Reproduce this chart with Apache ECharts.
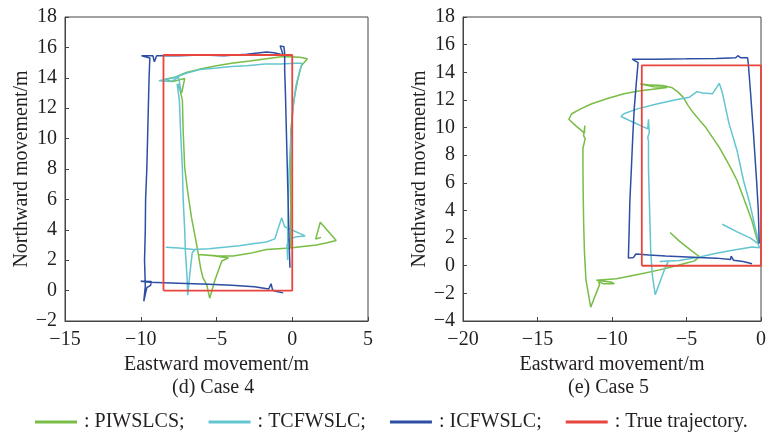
<!DOCTYPE html>
<html>
<head>
<meta charset="utf-8">
<script src="https://cdn.jsdelivr.net/npm/echarts@6/dist/echarts.min.js"></script>
<style>
html,body{margin:0;padding:0;background:#fff;}
#chart{width:769px;height:434px;}
</style>
</head>
<body>
<div id="chart"></div>
<script>
// ---- Data ----
const seriesNames = ['PIWSLCS', 'TCFWSLC', 'ICFWSLC', 'True trajectory'];
const panelTitles = ['(d) Case 4', '(e) Case 5'];
const xAxisTitle = 'Eastward movement/m';
const yAxisTitle = 'Northward movement/m';

// Case 4
const case4_PIWSLCS = [[-0.1,2.8],[-0.1,5],[-0.1,8],[-0.1,10.5],[0.1,12.5],[0.35,13.8],[0.6,14.8],[1.0,15.25],[0.5,15.35],[-0.6,15.4],[-1.7,15.25],[-2.8,15.1],[-4,14.95],[-5,14.8],[-6,14.6],[-7,14.35],[-7.7,14.05],[-8.4,13.9],[-7.9,13.75],[-7.1,13.95],[-7.3,13.0],[-7.5,13.6],[-7.25,12.5],[-7.2,10.5],[-7.1,8.1],[-6.9,6.5],[-6.65,4.8],[-6.4,3.5],[-6.2,2.4],[-6.05,1.5],[-5.9,0.85],[-5.65,0.4],[-5.45,-0.5],[-5.1,0.7],[-4.65,1.95],[-4.2,2.15],[-5.2,2.3],[-6.2,2.37],[-5,2.3],[-3.9,2.27],[-2.8,2.45],[-1.7,2.7],[-0.15,2.8],[0.7,2.9],[1.6,3.0],[2.3,3.15],[2.9,3.3],[1.85,4.5],[1.55,3.4],[1.9,3.5]];
const case4_TCFWSLC = [[-8.35,2.85],[-7.5,2.8],[-6.5,2.7],[-5.5,2.75],[-4.5,2.85],[-3.5,2.95],[-2.5,3.1],[-1.7,3.2],[-1.15,3.4],[-0.7,4.8],[-0.5,4.2],[0.85,3.6],[0.3,3.55],[-0.2,3.4],[-0.35,3.0],[-0.3,2.0],[-0.3,4],[-0.25,6],[-0.2,8],[-0.1,10],[0.05,12],[0.25,13.5],[0.5,14.5],[0.65,14.95],[0.2,14.95],[-0.8,14.9],[-1.8,14.9],[-3,14.8],[-4,14.75],[-5,14.65],[-6.1,14.55],[-7,14.3],[-7.8,14.0],[-8.8,13.8],[-8,13.75],[-7.5,14.05],[-7.35,13.1],[-7.6,13.6],[-7.45,12.5],[-7.35,10],[-7.25,8],[-7.2,6],[-7.1,4],[-7.05,2.5],[-6.95,1],[-6.9,-0.3],[-6.75,1.2],[-6.6,2.5],[-6.4,2.7]];
const case4_ICFWSLC = [[-0.6,-0.15],[-1.1,-0.05],[-1.3,0.05],[-1.4,0.45],[-1.55,0.1],[-2.5,0.25],[-4,0.35],[-5.5,0.42],[-7,0.47],[-8.5,0.52],[-9.4,0.55],[-10.0,0.62],[-9.3,0.6],[-9.35,0.35],[-9.6,0.2],[-9.8,-0.7],[-9.7,0.3],[-9.75,2],[-9.7,4],[-9.68,6],[-9.6,8],[-9.55,10],[-9.5,12],[-9.45,14],[-9.4,15.3],[-9.95,15.45],[-9.2,15.45],[-9.1,15.05],[-8.95,15.45],[-7.5,15.45],[-6,15.5],[-4.5,15.45],[-3,15.55],[-1.7,15.7],[-1.2,15.65],[-0.6,15.5],[-0.8,16.1],[-0.55,16.05],[-0.5,15.6],[-0.5,14.5],[-0.45,13],[-0.4,11],[-0.35,9],[-0.3,7],[-0.25,5],[-0.2,3],[-0.15,1.5]];
const case4_True = [[-8.5,0],[0,0],[0,15.5],[-8.5,15.5],[-8.5,0]];

// Case 5
const case5_PIWSLCS = [[-6.1,2.4],[-5.5,1.8],[-4.8,1.2],[-4.13,0.65],[-4.46,0.35],[-5.0,0.2],[-5.67,0.0],[-6.8,-0.3],[-8.1,-0.6],[-9.7,-0.95],[-11.05,-1.05],[-10.0,-1.2],[-9.85,-1.3],[-10.6,-1.3],[-10.9,-1.15],[-10.83,-1.35],[-11.43,-3.0],[-11.75,-1.0],[-11.85,1],[-11.9,3],[-11.93,5],[-11.95,7],[-11.95,8.5],[-11.8,9.2],[-11.9,9.4],[-11.82,10.15],[-11.85,9.6],[-12.4,10.1],[-12.9,10.6],[-12.7,11.0],[-12.2,11.3],[-11.4,11.7],[-10.3,12.1],[-9.2,12.45],[-8.2,12.65],[-7.4,12.75],[-6.3,12.9],[-7.2,12.95],[-8.1,13.15],[-7.6,13.1],[-6.6,13.05],[-6.0,12.9],[-5.6,12.6],[-5.23,12.2],[-4.9,11.6],[-4.57,11.1],[-4.1,10.5],[-3.7,10.0],[-3.2,9.2],[-2.8,8.56],[-2.3,7.6],[-1.93,6.87],[-1.6,6.15],[-1.1,4.7],[-0.61,3.25],[-0.18,1.56]];
const case5_TCFWSLC = [[-2.6,3.0],[-1.6,2.45],[-0.7,2.0],[-0.2,1.6],[-0.1,1.3],[-0.6,1.35],[-1.2,1.25],[-2.0,1.1],[-3.0,0.9],[-4.2,0.62],[-5.5,0.38],[-6.8,0.3],[-6.2,0.35],[-6.45,-0.2],[-7.1,-2.1],[-7.3,-0.6],[-7.4,1],[-7.45,3],[-7.5,5],[-7.55,7],[-7.55,9],[-7.6,9.3],[-7.5,9.6],[-7.55,10.6],[-7.6,9.9],[-8.5,10.35],[-9.4,10.8],[-9.2,11.0],[-8.3,11.35],[-7.0,11.7],[-5.8,12.0],[-4.8,12.2],[-4.3,12.6],[-3.9,12.5],[-3.25,12.45],[-2.8,13.2],[-2.6,12.55],[-2.15,10.3],[-1.6,8.3],[-1.17,6.15],[-0.75,4.5],[-0.4,2.8],[-0.15,1.7]];
const case5_ICFWSLC = [[-0.6,0.15],[-1.2,0.3],[-1.85,0.4],[-2.0,0.7],[-2.05,0.45],[-3,0.55],[-4.2,0.6],[-5.3,0.65],[-6.4,0.7],[-7.5,0.78],[-8.4,0.85],[-8.55,0.6],[-8.9,0.55],[-8.85,2.5],[-8.8,4.7],[-8.7,7],[-8.6,9.5],[-8.5,11.5],[-8.37,13.2],[-8.25,14.7],[-8.65,14.95],[-7,14.95],[-5,14.97],[-3,15.0],[-1.7,15.05],[-1.55,15.2],[-1.35,15.05],[-0.9,15.05],[-0.85,14.6],[-0.7,12.5],[-0.5,9.5],[-0.3,6.2],[-0.18,4],[-0.12,1.6]];
const case5_True = [[-8,0],[0,0],[0,14.5],[-8,14.5],[-8,0]];

const xRanges = [[-15, 5], [-20, 0]];
const yRanges = [[-2, 18], [-4, 18]];
const xStep = 5, yStep = 2;

// ---- Styles ----
const colors = ['#78bd45', '#63c5d0', '#2c4ea3', '#e8453e'];
const FONT = '"Liberation Serif", "Times New Roman", serif';
const TXT = '#231f20';
const AX = '#444';
const minus = v => String(v).replace('-', '\u2212');

const grids = [
  {left: 65, top: 17, width: 303, height: 304},
  {left: 463, top: 17, width: 303, height: 304}
];

function xAx(i) {
  return {
    gridIndex: i, type: 'value', min: xRanges[i][0], max: xRanges[i][1], interval: xStep,
    axisLine: {show: true, onZero: false, lineStyle: {color: AX, width: 1}},
    axisTick: {show: true, inside: true, length: 4, lineStyle: {color: AX}},
    axisLabel: {fontSize: 20, fontFamily: FONT, color: TXT, margin: 9, formatter: minus},
    splitLine: {show: false},
    name: xAxisTitle, nameLocation: 'middle', nameGap: 33,
    nameTextStyle: {fontSize: 20, fontFamily: FONT, color: TXT}
  };
}
function yAx(i) {
  return {
    gridIndex: i, type: 'value', min: yRanges[i][0], max: yRanges[i][1], interval: yStep,
    axisLine: {show: true, onZero: false, lineStyle: {color: AX, width: 1}},
    axisTick: {show: true, inside: true, length: 4, lineStyle: {color: AX}},
    axisLabel: {fontSize: 20, fontFamily: FONT, color: TXT, margin: 8, formatter: minus},
    splitLine: {show: false},
    name: yAxisTitle, nameLocation: 'middle', nameGap: 31,
    nameTextStyle: {fontSize: 20, fontFamily: FONT, color: TXT}
  };
}

const panelData = [
  [case4_PIWSLCS, case4_TCFWSLC, case4_ICFWSLC, case4_True],
  [case5_PIWSLCS, case5_TCFWSLC, case5_ICFWSLC, case5_True]
];
const series = [];
panelData.forEach((arrs, p) => {
  arrs.forEach((d, k) => {
    series.push({
      name: seriesNames[k], type: 'line', xAxisIndex: p, yAxisIndex: p,
      data: d, showSymbol: false, symbol: 'none', animation: false,
      lineStyle: {color: colors[k], width: k === 3 ? 1.8 : 1.5},
      itemStyle: {color: colors[k]}, z: k === 3 ? 5 : 3 + k * 0.1
    });
  });
});

const chart = echarts.init(document.getElementById('chart'));
chart.setOption({
  animation: false,
  color: colors,
  grid: grids.map(g => Object.assign({show: true, borderColor: AX, borderWidth: 1, backgroundColor: 'transparent'}, g)),
  xAxis: [xAx(0), xAx(1)],
  yAxis: [yAx(0), yAx(1)],
  legend: {
    data: seriesNames, left: 30, top: 407,
    icon: 'rect', itemWidth: 42, itemHeight: 3, itemGap: 24,
    textStyle: {fontSize: 20, fontFamily: FONT, color: TXT, padding: [0, 0, 0, 2]},
    formatter: n => ': ' + n + (n === 'True trajectory' ? '.' : ';')
  },
  graphic: [
    {type: 'text', left: 172, top: 378, style: {text: panelTitles[0], fontSize: 20, fontFamily: FONT, fill: TXT}},
    {type: 'text', left: 568, top: 378, style: {text: panelTitles[1], fontSize: 20, fontFamily: FONT, fill: TXT}}
  ],
  series: series
});
</script>
</body>
</html>
